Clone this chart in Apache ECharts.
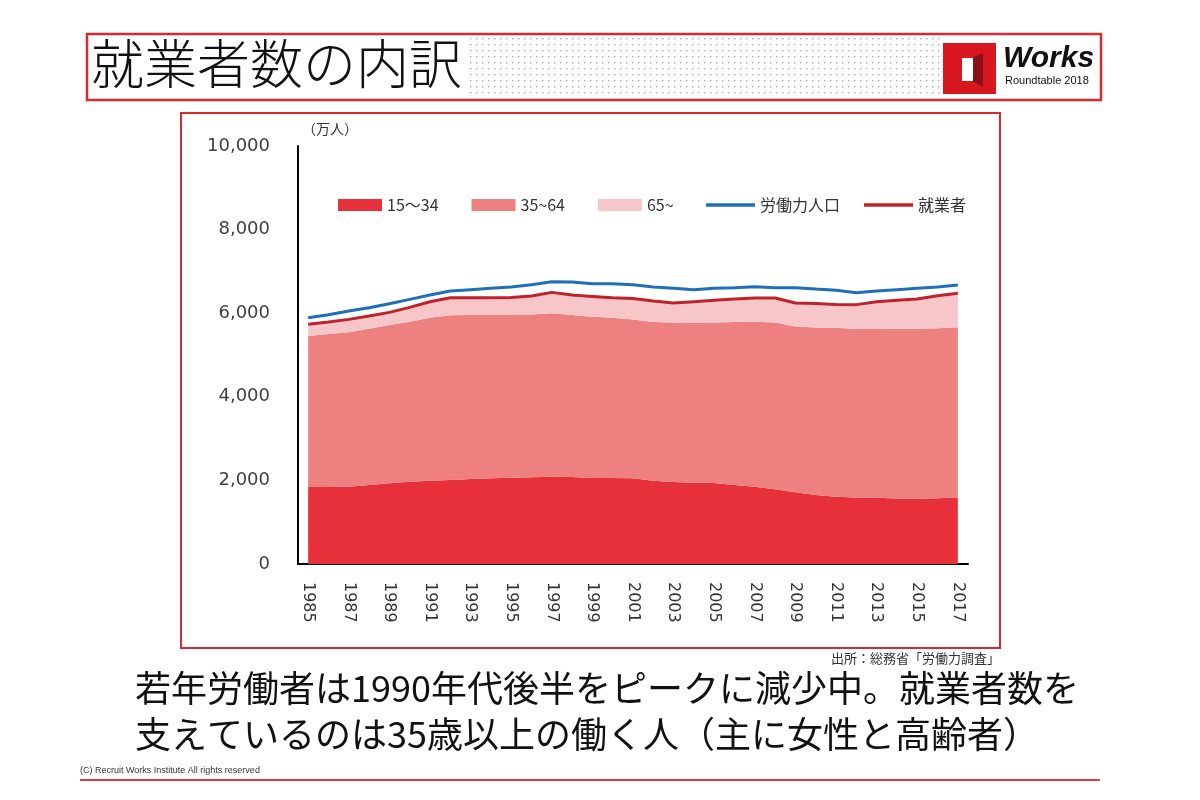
<!DOCTYPE html>
<html>
<head>
<meta charset="utf-8">
<script src="https://cdn.jsdelivr.net/npm/echarts@6/dist/echarts.min.js"></script>
<style>
html,body{margin:0;padding:0;background:#fff;}
#c{width:1200px;height:800px;}
</style>
</head>
<body>
<div id="c"></div>
<script>
var years = ['1985','1986','1987','1988','1989','1990','1991','1992','1993','1994','1995','1996','1997','1998','1999','2000','2001','2002','2003','2004','2005','2006','2007','2008','2009','2010','2011','2012','2013','2014','2015','2016','2017'];
var age15_34 = [1840,1840,1850,1890,1930,1965,1993,2010,2033,2050,2065,2075,2090,2080,2060,2055,2050,1993,1960,1945,1940,1890,1850,1787,1715,1650,1610,1590,1586,1565,1562,1570,1590];
var age35_64 = [3614,3660,3692,3740,3787,3831,3899,3940,3923,3906,3891,3895,3906,3876,3856,3837,3800,3797,3815,3828,3840,3900,3946,3993,3965,4010,4040,4031,4039,4065,4068,4070,4071];
var age65plus = [279,290,310,305,303,344,383,420,414,414,422,440,502,478,486,478,500,501,468,502,527,548,566,582,563,575,561,584,650,677,708,778,814];
var laborForce = [5892,5964,6052,6131,6227,6331,6434,6530,6562,6594,6626,6681,6753,6745,6705,6705,6680,6626,6594,6562,6594,6610,6634,6610,6610,6578,6547,6490,6530,6562,6594,6626,6674];
var employed = [5733,5790,5852,5935,6020,6140,6275,6370,6370,6370,6378,6410,6498,6434,6402,6370,6350,6291,6243,6275,6307,6338,6362,6362,6243,6235,6211,6205,6275,6307,6338,6418,6475];
var seriesNames = ['15～34','35~64','65~','労働力人口','就業者'];
var yTicks = [0,2000,4000,6000,8000,10000];

var chart = echarts.init(document.getElementById('c'));

// dot pattern for header
var pc = document.createElement('canvas');
pc.width = 6; pc.height = 6;
var pctx = pc.getContext('2d');
pctx.fillStyle = '#a8a8a8';
pctx.fillRect(2, 2, 1.4, 1.4);

var JP = '"Noto Sans CJK JP","Noto Sans",sans-serif';
var NUM = '"DejaVu Sans",sans-serif';
var legendText = { fontFamily: JP, fontSize: 16, color: '#333' };

var option = {
  backgroundColor: '#ffffff',
  animation: false,
  grid: { left: 298, right: 232, top: 146, bottom: 236, containLabel: false },
  legend: [
    {
      left: 338, top: 197, padding: 0,
      itemWidth: 44, itemHeight: 12, itemGap: 33,
      textStyle: legendText,
      data: [
        { name: seriesNames[0], icon: 'rect' },
        { name: seriesNames[1], icon: 'rect' },
        { name: seriesNames[2], icon: 'rect' }
      ]
    },
    {
      left: 706, top: 197, padding: 0,
      itemWidth: 49, itemHeight: 3.5, itemGap: 24,
      textStyle: legendText,
      data: [
        { name: seriesNames[3], icon: 'rect' },
        { name: seriesNames[4], icon: 'rect' }
      ]
    }
  ],
  xAxis: {
    type: 'category',
    data: years,
    boundaryGap: true,
    axisLine: { show: true, lineStyle: { color: '#000', width: 2 } },
    axisTick: { show: false },
    axisLabel: { interval: 1, rotate: -90, margin: 18, fontFamily: NUM, fontSize: 16, color: '#333' }
  },
  yAxis: {
    type: 'value',
    min: 0, max: 10000, interval: 2000,
    axisLine: { show: true, lineStyle: { color: '#000', width: 2 } },
    axisTick: { show: false },
    splitLine: { show: false },
    axisLabel: {
      margin: 28, fontFamily: NUM, fontSize: 18, color: '#404040',
      formatter: function (v) { return yTicks.indexOf(v) >= 0 ? v.toLocaleString('en-US') : ''; }
    }
  },
  series: [
    { name: seriesNames[0], type: 'line', stack: 'emp', data: age15_34, symbol: 'none',
      lineStyle: { width: 0 }, itemStyle: { color: '#e8303a' }, areaStyle: { color: '#e8303a', opacity: 1 } },
    { name: seriesNames[1], type: 'line', stack: 'emp', data: age35_64, symbol: 'none',
      lineStyle: { width: 0 }, itemStyle: { color: '#ee8080' }, areaStyle: { color: '#ee8080', opacity: 1 } },
    { name: seriesNames[2], type: 'line', stack: 'emp', data: age65plus, symbol: 'none',
      lineStyle: { width: 0 }, itemStyle: { color: '#f7c6c8' }, areaStyle: { color: '#f7c6c8', opacity: 1 } },
    { name: seriesNames[3], type: 'line', data: laborForce, symbol: 'none',
      lineStyle: { width: 3, color: '#1f6fb8' }, itemStyle: { color: '#1f6fb8' } },
    { name: seriesNames[4], type: 'line', data: employed, symbol: 'none', z: 3,
      lineStyle: { width: 3, color: '#c0222b' }, itemStyle: { color: '#c0222b' } }
  ],
  graphic: [
    { type: 'rect', shape: { x: 466, y: 38, width: 474, height: 58 }, style: { fill: { image: pc, repeat: 'repeat' } }, silent: true },
    { type: 'rect', shape: { x: 87, y: 34, width: 1014, height: 66 }, style: { fill: 'none', stroke: '#d9282f', lineWidth: 2.5 } },
    { type: 'text', left: 91, top: 37, style: { text: '就業者数の内訳', font: '300 53px ' + JP, fill: '#111' } },
    // logo
    { type: 'rect', shape: { x: 943, y: 43, width: 53, height: 51 }, style: { fill: '#d7161e' } },
    { type: 'polygon', shape: { points: [[972, 58], [983, 53], [983, 87], [972, 81]] }, style: { fill: '#8a1016' } },
    { type: 'rect', shape: { x: 962, y: 58, width: 11, height: 23 }, style: { fill: '#ffffff' } },
    { type: 'text', left: 1003, top: 44, style: { text: 'Works', font: 'italic bold 30px "Liberation Sans Narrow","Liberation Sans",sans-serif', fill: '#111' } },
    { type: 'text', left: 1005, top: 75, style: { text: 'Roundtable 2018', font: '11px "Liberation Sans",sans-serif', fill: '#111' } },
    // chart frame
    { type: 'rect', shape: { x: 181, y: 113, width: 819, height: 535 }, style: { fill: 'none', stroke: '#d9282f', lineWidth: 2 } },
    { type: 'text', left: 302, top: 122, style: { text: '（万人）', font: '14px ' + JP, fill: '#333' } },
    { type: 'text', right: 200, top: 652, style: { text: '出所：総務省「労働力調査」', font: '13px ' + JP, fill: '#333' } },
    // bottom text
    { type: 'text', left: 135, top: 670, style: { text: '若年労働者は1990年代後半をピークに減少中。就業者数を', font: '36px ' + JP, fill: '#111' } },
    { type: 'text', left: 135, top: 716, style: { text: '支えているのは35歳以上の働く人（主に女性と高齢者）', font: '36px ' + JP, fill: '#111' } },
    { type: 'text', left: 80, top: 766, style: { text: '(C) Recruit Works Institute All rights reserved', font: '9px "Liberation Sans",sans-serif', fill: '#333' } },
    { type: 'line', shape: { x1: 80, y1: 780, x2: 1100, y2: 780 }, style: { stroke: '#e03a3e', lineWidth: 2 } }
  ]
};
chart.setOption(option);
</script>
</body>
</html>
